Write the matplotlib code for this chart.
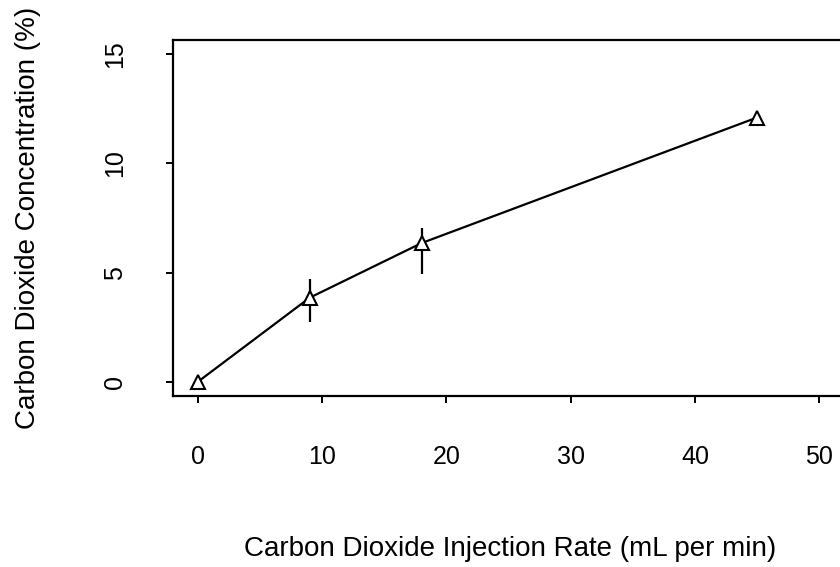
import numpy as np
import matplotlib
matplotlib.use("Agg")
import matplotlib.pyplot as plt

plt.rcParams['font.family'] = ['Liberation Sans', 'DejaVu Sans']

# injection rate (mL per min) vs CO2 concentration (%)
rate = [0, 9, 18, 45]
conc = [0.0, 3.85, 6.35, 12.1]
err_low = [0.0, 1.1, 1.4, 0.15]
err_high = [0.0, 0.85, 0.7, 0.15]

xticks = [0, 10, 20, 30, 40, 50]
yticks = [0, 5, 10, 15]

fig = plt.figure(figsize=(8.4, 5.67), dpi=100)
ax = fig.add_axes([173/840, 1-396/567, (844-173)/840, (396-40)/567])

ax.errorbar(rate, conc, yerr=[err_low, err_high], fmt='none', ecolor='black',
            elinewidth=1.6, capsize=0)
ax.plot(rate, conc, color='black', lw=1.6, marker='^', ms=10,
        mfc='white', mec='black', mew=1.5)

ax.set_xlim(-2, 52)
ax.set_ylim(-0.65, 15.65)
ax.set_xticks(xticks)
ax.set_yticks(yticks)
ax.tick_params(axis='x', length=5, width=1.4, pad=39, labelsize=18)
ax.tick_params(axis='y', length=5, width=1.4, pad=37, labelsize=18)
for lab in ax.get_xticklabels():
    lab.set_va('center')
for lab in ax.get_yticklabels():
    lab.set_rotation(90)
    lab.set_va('center')
    lab.set_ha('center')
for sp in ax.spines.values():
    sp.set_linewidth(1.6)

fig.text(510/840, 1-549/567, 'Carbon Dioxide Injection Rate (mL per min)',
         ha='center', va='center', fontsize=20)
fig.text(28/840, 1-218/567, 'Carbon Dioxide Concentration (%)',
         ha='center', va='center', rotation=90, fontsize=20)

fig.savefig('out.png', dpi=100)
